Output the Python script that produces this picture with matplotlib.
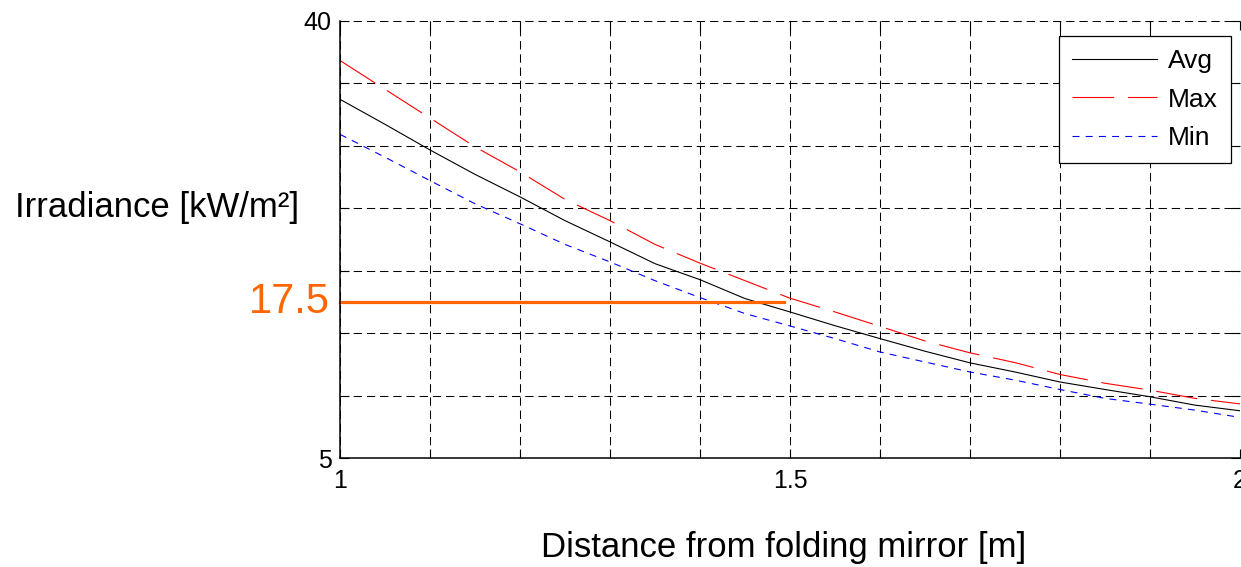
import matplotlib
matplotlib.use("Agg")
import matplotlib.pyplot as plt

plt.rcParams['font.family'] = ['Liberation Sans', 'DejaVu Sans']
plt.rcParams['lines.scale_dashes'] = False

# irradiance along the beam, sampled every 5 cm
distance = [1.00, 1.05, 1.10, 1.15, 1.20, 1.25, 1.30, 1.35, 1.40, 1.45, 1.50,
            1.55, 1.60, 1.65, 1.70, 1.75, 1.80, 1.85, 1.90, 1.95, 2.00]
irr_avg = [33.7, 31.7, 29.65, 27.7, 25.9, 24.0, 22.3, 20.56, 19.28, 17.77, 16.7,
           15.6, 14.57, 13.56, 12.63, 11.9, 11.1, 10.5, 9.92, 9.25, 8.8]
irr_max = [36.8, 34.5, 32.2, 29.9, 27.9, 25.7, 24.0, 22.1, 20.6, 19.2, 17.8,
           16.7, 15.55, 14.38, 13.43, 12.65, 11.7, 11.0, 10.45, 9.79, 9.35]
irr_min = [30.9, 29.07, 27.2, 25.35, 23.75, 22.1, 20.7, 19.2, 17.85, 16.57, 15.58,
           14.57, 13.5, 12.7, 11.9, 11.25, 10.5, 9.79, 9.33, 8.85, 8.27]

threshold = 17.5
threshold_x = [1.0, 1.493]

x_ticks = [1.0, 1.1, 1.2, 1.3, 1.4, 1.5, 1.6, 1.7, 1.8, 1.9, 2.0]
x_labels = ['1', '', '', '', '', '1.5', '', '', '', '', '2']
y_ticks = [5, 10, 15, 20, 25, 30, 35, 40]
y_labels = ['5', '', '', '', '', '', '', '40']

fig = plt.figure(figsize=(12.41, 5.67), dpi=100)
ax = fig.add_axes([340 / 1241, 1 - 458.3 / 567, 900 / 1241, (458.3 - 20.5) / 567])

ax.plot(distance, irr_avg, color='black', lw=0.8, label='Avg')
ax.plot(distance, irr_max, color='#FF0000', lw=0.8, dashes=(30, 10), label='Max')
ax.plot(distance, irr_min, color='#0000FF', lw=0.8, dashes=(5, 4.5), label='Min')

# threshold marker, label sits just left of the y axis
ax.plot(threshold_x, [threshold, threshold], color='#FF6600', lw=2.3,
        solid_capstyle='projecting', clip_on=False)
ax.text(-0.011, threshold, '17.5', color='#FF6600', fontsize=30,
        ha='right', va='center', transform=ax.get_yaxis_transform())

ax.set_xlim(1, 2)
ax.set_ylim(5, 40)
ax.set_xticks(x_ticks)
ax.set_xticklabels(x_labels)
ax.set_yticks(y_ticks)
ax.set_yticklabels(y_labels)
ax.tick_params(direction='in', length=6.5, width=0.8, top=True, right=True,
               labelsize=18, color='black')
ax.tick_params(axis='x', pad=8)
ax.tick_params(axis='y', pad=6)

ax.grid(True, color='black', lw=0.75, dashes=(6, 3.5))
ax.set_axisbelow(True)
for side in ['top', 'right']:
    ax.spines[side].set_visible(False)
for side in ['left', 'bottom']:
    ax.spines[side].set_linewidth(1.1)

fig.text(15 / 1241, 1 - 208 / 567, 'Irradiance [kW/m²]', fontsize=25,
         ha='left', va='center')
fig.text(784 / 1241, 1 - 547 / 567, 'Distance from folding mirror [m]',
         fontsize=25, ha='center', va='center')

leg = ax.legend(loc='upper right', bbox_to_anchor=(1231 / 1241, 1 - 36 / 567),
                bbox_transform=fig.transFigure, fontsize=19, handlelength=3.2,
                handletextpad=0.42, labelspacing=0.55, borderpad=0.5,
                frameon=True, fancybox=False, framealpha=1, borderaxespad=0)
leg.get_frame().set_edgecolor('black')
leg.get_frame().set_linewidth(0.9)

fig.savefig('out.png', dpi=100, facecolor='white')
